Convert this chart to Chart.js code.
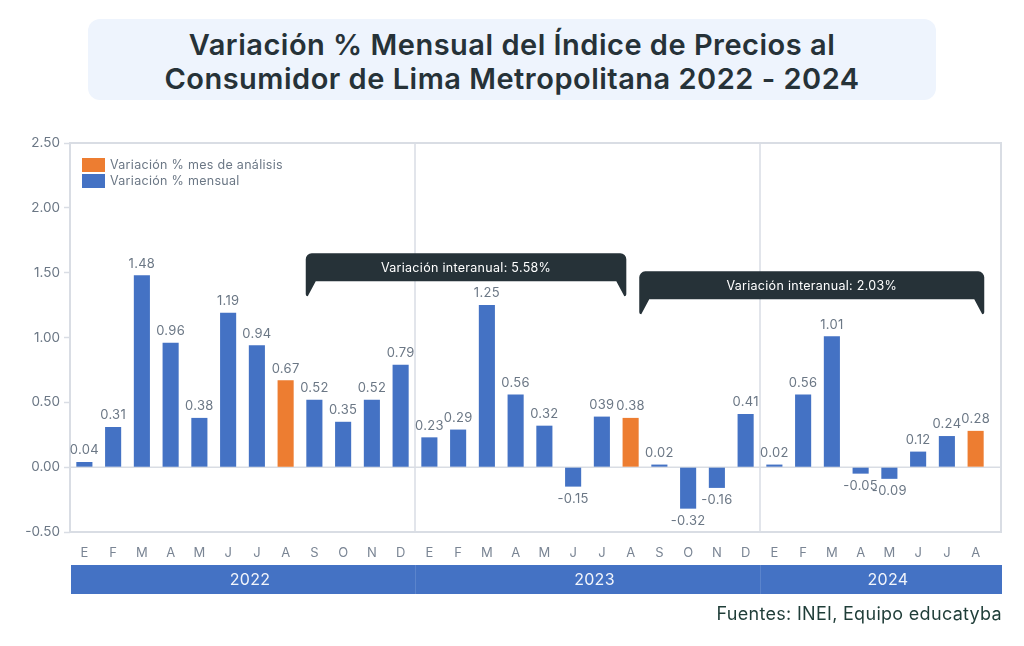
<!DOCTYPE html>
<html><head><meta charset="utf-8">
<script src="https://cdn.jsdelivr.net/npm/chart.js@4.4.1/dist/chart.umd.min.js"></script>
<style>
html,body{margin:0;padding:0;background:#fff;width:1024px;height:646px;overflow:hidden;font-family:Inter,"Noto Sans",sans-serif}
#title{position:absolute;left:88px;top:19px;width:848px;height:81px;box-sizing:border-box;padding-top:5px;background:#eef4fd;border-radius:12px;display:flex;align-items:center;justify-content:center;text-align:center;font-weight:600;font-size:29px;line-height:34px;color:#263238;letter-spacing:0.5px}
#src{position:absolute;right:22px;top:603px;font-size:18px;color:#1f3d38;letter-spacing:0.3px}
#c{position:absolute;left:0;top:0}
</style></head><body>
<canvas id="c" width="1024" height="646"></canvas>
<div id="title">Variación % Mensual del Índice de Precios al<br>Consumidor de Lima Metropolitana 2022 - 2024</div>
<div id="src">Fuentes: INEI, Equipo educatyba</div>
<script>
// ---- data ----
const monthLabels = ['E','F','M','A','M','J','J','A','S','O','N','D',
                     'E','F','M','A','M','J','J','A','S','O','N','D',
                     'E','F','M','A','M','J','J','A'];
const years = ['2022','2023','2024'];
const monthsPerYear = [12,12,8];
const variacionMensual = [0.04,0.31,1.48,0.96,0.38,1.19,0.94,null,0.52,0.35,0.52,0.79,
                          0.23,0.29,1.25,0.56,0.32,-0.15,0.39,null,0.02,-0.32,-0.16,0.41,
                          0.02,0.56,1.01,-0.05,-0.09,0.12,0.24,null];
const variacionMesAnalisis = [null,null,null,null,null,null,null,0.67,null,null,null,null,
                              null,null,null,null,null,null,null,0.38,null,null,null,null,
                              null,null,null,null,null,null,null,0.28];
const valueLabels = ['0.04','0.31','1.48','0.96','0.38','1.19','0.94','0.67','0.52','0.35','0.52','0.79',
                     '0.23','0.29','1.25','0.56','0.32','-0.15','039','0.38','0.02','-0.32','-0.16','0.41',
                     '0.02','0.56','1.01','-0.05','-0.09','0.12','0.24','0.28'];
const interanualTexts = ['Variación interanual: 5.58%','Variación interanual: 2.03%'];
const interanualFrom = [7.7, 19.3];
const interanualTo = [18.85, 31.3];
const interanualY = [1.65, 1.51];
const yTicks = [-0.5,0,0.5,1,1.5,2,2.5];

const BLUE = '#4472c4', ORANGE = '#ed7d31', GRAY = '#6b7785', LINE = '#d9dde4';
const FONT = 'Inter, "Noto Sans", sans-serif';

const decor = {
  id: 'decor',
  beforeDatasetsDraw(chart) {
    const {ctx, chartArea: a, scales: {x, y}} = chart;
    const R = a.right + 11;
    ctx.save();
    ctx.strokeStyle = LINE; ctx.lineWidth = 1.5;
    let idx = 0;
    for (let k = 0; k < monthsPerYear.length - 1; k++) {
      idx += monthsPerYear[k];
      const px = Math.round(x.getPixelForValue(idx - 0.5));
      ctx.beginPath(); ctx.moveTo(px, a.top); ctx.lineTo(px, a.bottom); ctx.stroke();
    }
    const y0 = y.getPixelForValue(0);
    ctx.lineWidth = 1.5;
    ctx.beginPath(); ctx.moveTo(a.left, y0); ctx.lineTo(R, y0); ctx.stroke();
    ctx.lineWidth = 2; ctx.strokeStyle = LINE;
    ctx.strokeRect(a.left, a.top, R - a.left, a.bottom - a.top);
    ctx.restore();
  },
  afterDatasetsDraw(chart) {
    const {ctx, chartArea: a, scales: {x, y}} = chart;
    ctx.save();
    ctx.font = '13px ' + FONT; ctx.fillStyle = GRAY; ctx.textAlign = 'center';
    if ('letterSpacing' in ctx) ctx.letterSpacing = '0.3px';
    chart.data.datasets.forEach((ds, di) => {
      const meta = chart.getDatasetMeta(di);
      meta.data.forEach((bar, i) => {
        const v = ds.data[i];
        if (v === null || v === undefined) return;
        if (v >= 0) { ctx.textBaseline = 'bottom'; ctx.fillText(valueLabels[i], bar.x, bar.y - 5); }
        else { ctx.textBaseline = 'top'; ctx.fillText(valueLabels[i], bar.x, bar.y + 6); }
      });
    });
    for (let k = 0; k < interanualTexts.length; k++) {
      const L = x.getPixelForValue(interanualFrom[k]);
      const Rr = x.getPixelForValue(interanualTo[k]);
      const top = y.getPixelForValue(interanualY[k]);
      const bh = 28, lh = 15, r = 6, lw = 10;
      ctx.fillStyle = '#263238';
      ctx.beginPath();
      ctx.moveTo(L, top + r);
      ctx.arcTo(L, top, L + r, top, r);
      ctx.lineTo(Rr - r, top);
      ctx.arcTo(Rr, top, Rr, top + r, r);
      ctx.lineTo(Rr, top + bh + lh - 2);
      ctx.quadraticCurveTo(Rr, top + bh + lh, Rr - 2, top + bh + lh);
      ctx.lineTo(Rr - lw, top + bh);
      ctx.lineTo(L + lw, top + bh);
      ctx.lineTo(L + 2, top + bh + lh);
      ctx.quadraticCurveTo(L, top + bh + lh, L, top + bh + lh - 2);
      ctx.closePath();
      ctx.fill();
      ctx.fillStyle = '#ffffff'; ctx.font = '12.5px ' + FONT;
      ctx.textAlign = 'center'; ctx.textBaseline = 'middle';
      ctx.fillText(interanualTexts[k], (L + Rr) / 2, top + bh / 2 + 1);
    }
    const lx = a.left + 12, ly = a.top + 15;
    chart.data.datasets.forEach((ds, di) => {
      const yy = ly + di * 16;
      ctx.fillStyle = ds.backgroundColor;
      ctx.fillRect(lx, yy, 23, 14);
      ctx.fillStyle = GRAY; ctx.font = '12.5px ' + FONT;
      ctx.textAlign = 'left'; ctx.textBaseline = 'middle';
      ctx.fillText(ds.label, lx + 28, yy + 7.5);
    });
    ctx.restore();
  },
  afterDraw(chart) {
    const {ctx, chartArea: a, scales: {x}} = chart;
    const R = a.right + 12;
    const top = a.bottom + 33, h = 29;
    ctx.save();
    ctx.fillStyle = BLUE;
    ctx.fillRect(a.left + 1, top, R - a.left - 1, h);
    let start = 0;
    const edges = [];
    for (let k = 0; k < years.length; k++) {
      const l = k === 0 ? a.left + 1 : x.getPixelForValue(start - 0.5);
      const end = start + monthsPerYear[k];
      const r = k === years.length - 1 ? R : x.getPixelForValue(end - 0.5);
      edges.push([l, r]);
      start = end;
    }
    ctx.strokeStyle = '#5b84cc'; ctx.lineWidth = 1;
    edges.slice(1).forEach(([l]) => { ctx.beginPath(); ctx.moveTo(Math.round(l) + 0.5, top); ctx.lineTo(Math.round(l) + 0.5, top + h); ctx.stroke(); });
    ctx.fillStyle = '#f2f5fb'; ctx.font = '16px ' + FONT;
    if ('letterSpacing' in ctx) ctx.letterSpacing = '0.3px';
    ctx.textAlign = 'center'; ctx.textBaseline = 'middle';
    edges.forEach(([l, r], k) => ctx.fillText(years[k], (l + r) / 2 + 7, top + h / 2 + 1));
    ctx.restore();
  }
};

new Chart(document.getElementById('c'), {
  type: 'bar',
  data: {
    labels: monthLabels,
    datasets: [
      {label: 'Variación % mes de análisis', data: variacionMesAnalisis, backgroundColor: ORANGE, grouped: false},
      {label: 'Variación % mensual', data: variacionMensual, backgroundColor: BLUE, grouped: false}
    ]
  },
  options: {
    responsive: false,
    devicePixelRatio: 1,
    animation: false,
    categoryPercentage: 1,
    barPercentage: 0.56,
    layout: {padding: {left: 0, right: 34, top: 143, bottom: 84}},
    plugins: {legend: {display: false}, tooltip: {enabled: false}, title: {display: false}},
    scales: {
      x: {
        grid: {display: false}, border: {display: false},
        ticks: {color: '#7a8594', font: {family: FONT, size: 13}, padding: 5, autoSkip: false, maxRotation: 0},
        afterFit: s => { s.height = 30; }
      },
      y: {
        min: -0.5, max: 2.5,
        grid: {display: true, drawOnChartArea: false, drawTicks: true, tickLength: 6, tickColor: LINE, tickWidth: 1.5},
        border: {display: false},
        afterBuildTicks: s => { s.ticks = yTicks.map(v => ({value: v})); },
        ticks: {color: GRAY, font: {family: FONT, size: 13.5}, padding: 4, callback: v => Number(v).toFixed(2)},
        afterFit: s => { s.width = 70; }
      }
    }
  },
  plugins: [decor]
});
</script>
</body></html>
